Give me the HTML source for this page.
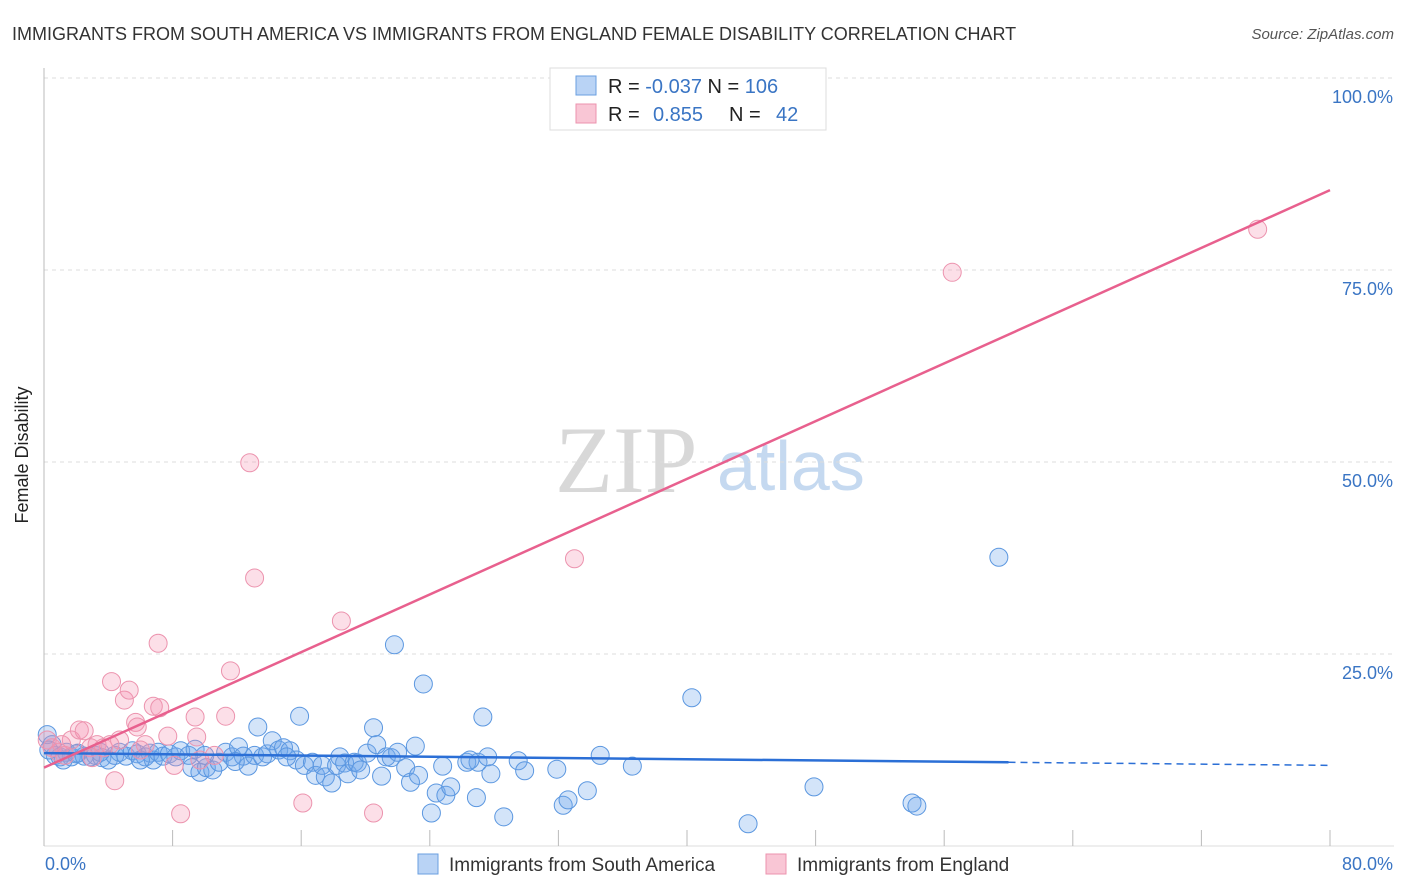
<!DOCTYPE html>
<html><head><meta charset="utf-8"><style>
body{margin:0;background:#fff;font-family:"Liberation Sans",sans-serif;}
#c{position:relative;width:1406px;height:892px;overflow:hidden}
</style></head><body>
<div id="c">
<svg id="s" width="1406" height="892" xmlns="http://www.w3.org/2000/svg">
<text x="12" y="40" font-size="18" fill="#333">IMMIGRANTS FROM SOUTH AMERICA VS IMMIGRANTS FROM ENGLAND FEMALE DISABILITY CORRELATION CHART</text>
<text x="1394" y="39" font-size="15" fill="#555" font-style="italic" text-anchor="end">Source: ZipAtlas.com</text>
<text x="28" y="455" font-size="18" fill="#222" transform="rotate(-90 28 455)" text-anchor="middle">Female Disability</text>
<text x="555" y="492" font-size="95" fill="#d8d8d8" font-family="Liberation Serif,serif">ZIP</text>
<text x="717" y="490" font-size="70" fill="#c5d9f0">atlas</text>
<g id="grid"></g><g id="axes"></g><g id="pts"></g><g id="lines"></g>
<g>
<rect x="550" y="68" width="276" height="62" fill="#fff" stroke="#ddd"/>
<rect x="576" y="76" width="20" height="19" fill="#b9d3f5" stroke="#6a9fe0"/>
<rect x="576" y="104" width="20" height="19" fill="#f9c6d5" stroke="#ec93ae"/>
<text x="608" y="93" font-size="20" fill="#222">R = <tspan fill="#3a75c4">-0.037</tspan>   N = <tspan fill="#3a75c4">106</tspan></text>
<text x="608" y="121" font-size="20" fill="#222">R = <tspan fill="#3a75c4" x="653">0.855</tspan><tspan x="729">N = </tspan><tspan fill="#3a75c4" x="776">42</tspan></text>
</g>
<g>
<rect x="418" y="854" width="20" height="20" fill="#b9d3f5" stroke="#6a9fe0"/>
<text x="449" y="871" font-size="19" fill="#333">Immigrants from South America</text>
<rect x="766" y="854" width="20" height="20" fill="#f9c6d5" stroke="#ec93ae"/>
<text x="797" y="871" font-size="19" fill="#333">Immigrants from England</text>
</g>
</svg>
</div>
<script>
const blueX=[0.2,0.5,0.7,1.0,1.4,1.7,2.1,2.5,2.9,3.2,3.6,4.0,4.4,4.7,5.1,5.5,5.8,6.3,6.6,6.8,7.1,7.4,7.8,8.2,8.5,9.0,9.2,9.4,9.7,10.1,10.5,10.9,11.3,11.7,12.1,12.4,12.7,13.1,13.3,13.6,13.9,14.2,14.6,14.9,15.3,15.7,15.9,16.2,16.7,16.9,17.3,17.5,17.9,18.2,18.4,18.7,18.9,19.3,19.5,20.1,20.5,20.7,21.0,21.3,21.6,21.8,22.0,22.5,22.8,23.1,23.3,23.6,24.1,24.4,24.8,25.0,25.3,26.3,26.9,27.0,27.3,27.6,27.8,28.6,29.5,29.9,31.9,32.3,32.6,33.8,34.6,36.6,40.3,43.8,47.9,54.0,54.3,59.4,1.2,3.5,6.0,10.0,15.1,19.7,26.5,0.3,2.0,11.9];
const blueY=[14.5,13.2,11.8,11.6,12.2,11.6,12.1,11.7,11.6,11.8,11.5,11.2,11.8,12.2,11.7,12.4,12.0,11.6,12.1,11.2,12.2,11.7,12.0,11.6,12.4,11.8,10.2,12.6,9.6,10.2,9.9,10.9,12.2,11.6,12.9,11.7,10.4,11.8,15.5,11.6,12.0,13.7,12.5,12.8,12.4,11.2,16.9,10.5,10.9,9.2,10.5,9.0,8.2,10.5,11.6,10.8,9.4,10.9,10.8,12.1,15.4,13.2,9.1,11.6,11.5,26.2,12.2,10.2,8.3,13.0,9.2,21.1,4.3,6.9,10.4,6.6,7.7,10.9,6.3,10.9,16.8,11.6,9.4,3.8,11.1,9.8,10.0,5.3,6.0,7.2,11.8,10.4,19.3,2.9,7.7,5.6,5.2,37.6,11.2,12.2,11.2,11.8,11.6,9.9,11.2,12.5,12.0,11.0];
const pinkX=[0.2,0.5,0.9,1.3,1.7,2.2,2.5,2.9,3.3,3.7,4.2,4.4,4.7,5.0,5.3,5.7,5.8,6.3,6.8,7.1,7.2,7.7,8.1,8.5,9.4,9.5,11.3,11.6,12.8,13.1,16.1,18.5,20.5,33.0,56.5,75.5,4.1,6.0,3.0,1.1,9.7,10.6];
const pinkY=[13.8,12.8,12.2,11.8,13.8,15.1,15.0,12.8,13.2,12.8,21.4,8.5,13.8,19.0,20.3,16.1,15.5,13.2,18.2,26.4,18.0,14.3,10.5,4.2,16.8,14.2,16.9,22.8,49.9,34.9,5.6,29.3,4.3,37.4,74.7,80.3,13.2,12.5,11.5,13.2,11.2,11.8];
const blueTrend=[12.1,10.5];
const pinkTrend=[10.2,85.4];
const yTicks=[25,50,75,100];
const yTickLabels=["25.0%","50.0%","75.0%","100.0%"];
const xTicks=[0,8,16,24,32,40,48,56,64,72,80];
const NS="http://www.w3.org/2000/svg";
const X0=44,X1=1330,Y0=846,Y1=78;
const sx=v=>X0+(v/80)*(X1-X0);
const sy=v=>Y0-(v/100)*(Y0-Y1);
function mk(t,a,p){const e=document.createElementNS(NS,t);for(const k in a)e.setAttribute(k,a[k]);p.appendChild(e);return e;}
const grid=document.getElementById('grid'),axes=document.getElementById('axes'),pts=document.getElementById('pts'),lines=document.getElementById('lines');
yTicks.forEach((v,i)=>{
  const l=mk('line',{x1:X0,x2:1394,y1:sy(v),y2:sy(v),stroke:'#ddd','stroke-dasharray':'4,4'},grid);
  
  
  const t=mk('text',{x:1393,y:sy(v)+25,'font-size':18,fill:'#3a75c4','text-anchor':'end'},axes);
  t.textContent=yTickLabels[i];
  
  
});
const ya=mk('line',{x1:X0,x2:X0,y1:68,y2:Y0,stroke:'#bbb'},axes);


const xa=mk('line',{x1:X0,x2:1394,y1:Y0,y2:Y0,stroke:'#ddd'},axes);


xTicks.forEach(v=>{
  const l=mk('line',{x1:sx(v),x2:sx(v),y1:830,y2:Y0,stroke:'#bbb'},axes);
  
  
});
const xl0=mk('text',{x:45,y:870,'font-size':18,fill:'#3a75c4'},axes);xl0.textContent='0.0%';


const xl1=mk('text',{x:1393,y:870,'font-size':18,fill:'#3a75c4','text-anchor':'end'},axes);xl1.textContent='80.0%';


blueX.forEach((v,i)=>{
  const c=mk('circle',{cx:sx(v),cy:sy(blueY[i]),r:9,fill:'rgba(110,165,235,0.3)',stroke:'#5b97e0','stroke-width':1},pts);
  
  
});
pinkX.forEach((v,i)=>{
  const c=mk('circle',{cx:sx(v),cy:sy(pinkY[i]),r:9,fill:'rgba(245,150,180,0.3)',stroke:'#ec93ae','stroke-width':1},pts);
  
  
});
const bAt=x=>blueTrend[0]+(blueTrend[1]-blueTrend[0])*x/80;
const b1=mk('line',{x1:sx(0),y1:sy(bAt(0)),x2:sx(60),y2:sy(bAt(60)),stroke:'#2b6fd6','stroke-width':2.5},lines);


const b2=mk('line',{x1:sx(60),y1:sy(bAt(60)),x2:sx(80),y2:sy(bAt(80)),stroke:'#2b6fd6','stroke-width':1.5,'stroke-dasharray':'7,5'},lines);


const p1=mk('line',{x1:sx(0),y1:sy(pinkTrend[0]),x2:sx(80),y2:sy(pinkTrend[1]),stroke:'#e8608e','stroke-width':2.5},lines);


</script>
</body></html>
